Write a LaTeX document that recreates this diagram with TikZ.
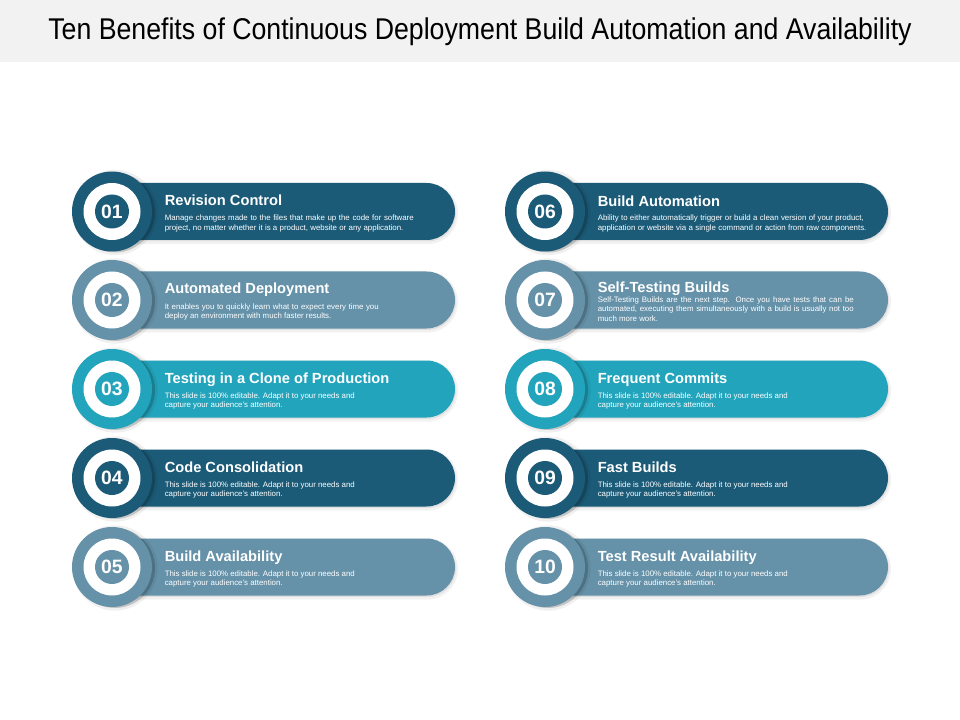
\documentclass[tikz,border=0pt]{standalone}
\usepackage{fontspec}
\setmainfont{Liberation Sans}
\newfontfamily\titlefont[FakeStretch=0.89]{Liberation Sans}
\usetikzlibrary{shapes.misc}
\definecolor{cdark}{RGB}{27,91,120}
\definecolor{cgray}{RGB}{101,146,169}
\definecolor{cteal}{RGB}{34,164,188}
\definecolor{cband}{RGB}{242,242,242}
\newcommand\jl[2]{\hbox to #1{#2}}
\newcommand\benefit[9]{%
  \node[bar, fill=black, opacity=0.05, minimum width=258pt, minimum height=46pt] (#1sha) at ({#2+174},{#3+2}) {};
  \node[bar, fill=black, opacity=0.07] (#1shb) at ({#2+174},{#3+1.5}) {};
  \node[bar, fill=#4] (#1bar) at ({#2+173},{#3}) {};
  \node[ring, fill=black, opacity=0.06, minimum size=64pt] (#1csa) at ({#2+3},{#3+1}) {};
  \node[ring, fill=black, opacity=0.18] (#1csb) at ({#2+3},{#3+1}) {};
  \node[ring, fill=#4] (#1ring) at (#2,#3) {};
  \node[hole] (#1hole) at (#2,#3) {};
  \node[num, fill=#4] (#1num) at (#2,#3) {#5};
  \node[head] (#1head) at ({#2+52.5},{#3+#8}) {#6};
  \node[desc] (#1desc) at ({#2+52.5},{#3+#9}) {#7};
}
\begin{document}
\begin{tikzpicture}[x=0.75pt,y=-0.75pt,
  bar/.style={rounded rectangle, rounded rectangle left arc=none, minimum width=255pt, minimum height=42.75pt, inner sep=0pt, draw=none},
  ring/.style={circle, minimum size=60pt, inner sep=0pt, draw=none},
  hole/.style={circle, fill=white, minimum size=42.75pt, inner sep=0pt},
  num/.style={circle, minimum size=25.5pt, inner sep=0pt, text=white, font=\bfseries\fontsize{14.5}{15}\selectfont},
  head/.style={anchor=base west, inner sep=0pt, text=white, font=\bfseries\fontsize{11}{13}\selectfont},
  desc/.style={anchor=north west, inner sep=0pt, text=white, align=left, font=\fontsize{5.9}{7}\selectfont},
]
\useasboundingbox (0,0) rectangle (960,720);
\fill[white] (0,0) rectangle (960,720);
\fill[cband] (0,0) rectangle (960,62);
\node[font=\titlefont\fontsize{22.5}{25}\selectfont, inner sep=0pt] (title) at (480,32) {Ten Benefits of Continuous Deployment Build Automation and Availability};

\benefit{a}{112}{211.5}{cdark}{01}{Revision Control}{\jl{186.75pt}{Manage changes made to the files that make up the code for software}\\\jl{179pt}{project, no matter whether it is a product, website or any application.}}{-6}{3.5}
\benefit{b}{112}{300}{cgray}{02}{Automated Deployment}{\jl{160.5pt}{It enables you to quickly learn what to expect every time you}\\deploy an environment with much faster results.}{-6}{3.5}
\benefit{c}{112}{389}{cteal}{03}{Testing in a Clone of Production}{This slide is 100\%  editable.  Adapt it to your needs and\\capture your audience's attention.}{-6}{3.5}
\benefit{d}{112}{478}{cdark}{04}{Code Consolidation}{This slide is 100\%  editable.  Adapt it to your needs and\\capture your audience's attention.}{-6}{3.5}
\benefit{e}{112}{567}{cgray}{05}{Build Availability}{This slide is 100\%  editable.  Adapt it to your needs and\\capture your audience's attention.}{-6}{3.5}

\benefit{f}{545}{211.5}{cdark}{06}{Build Automation}{\jl{199.5pt}{Ability to either automatically trigger or build a clean version of your product,}\\\jl{201.5pt}{application or website via a single command or action from raw components.}}{-5}{3.5}
\benefit{g}{545}{300}{cgray}{07}{Self-Testing Builds}{\jl{192pt}{Self-Testing Builds are the next step. Once you have tests that can be}\\\jl{192pt}{automated, executing them simultaneously with a build is usually not too}\\much more work.}{-8}{-3.5}
\benefit{h}{545}{389}{cteal}{08}{Frequent Commits}{This slide is 100\%  editable.  Adapt it to your needs and\\capture your audience's attention.}{-6}{3.5}
\benefit{i}{545}{478}{cdark}{09}{Fast Builds}{This slide is 100\%  editable.  Adapt it to your needs and\\capture your audience's attention.}{-6}{3.5}
\benefit{j}{545}{567}{cgray}{10}{Test Result Availability}{This slide is 100\%  editable.  Adapt it to your needs and\\capture your audience's attention.}{-6}{3.5}
\end{tikzpicture}
\end{document}
